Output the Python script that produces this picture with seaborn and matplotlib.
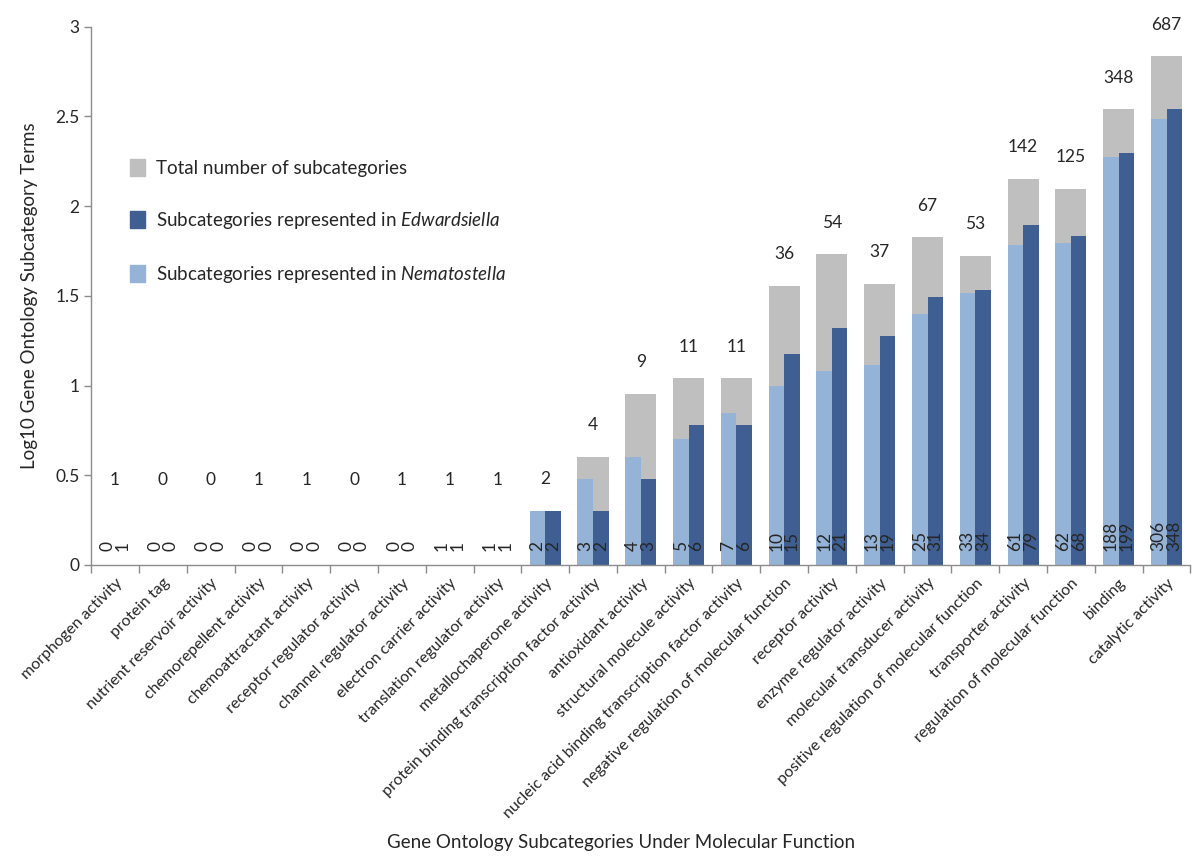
import numpy as np
import pandas as pd
import seaborn as sns
import matplotlib.pyplot as plt
from matplotlib.patches import Patch

categories = [
    "morphogen activity", "protein tag", "nutrient reservoir activity",
    "chemorepellent activity", "chemoattractant activity",
    "receptor regulator activity", "channel regulator activity",
    "electron carrier activity", "translation regulator activity",
    "metallochaperone activity", "protein binding transcription factor activity",
    "antioxidant activity", "structural molecule activity",
    "nucleic acid binding transcription factor activity",
    "negative regulation of molecular function", "receptor activity",
    "enzyme regulator activity", "molecular transducer activity",
    "positive regulation of molecular function", "transporter activity",
    "regulation of molecular function", "binding", "catalytic activity",
]

total_counts = [1, 0, 0, 1, 1, 0, 1, 1, 1, 2, 4, 9, 11, 11, 36, 54, 37, 67, 53, 142, 125, 348, 687]
nematostella_counts = [0, 0, 0, 0, 0, 0, 0, 1, 1, 2, 3, 4, 5, 7, 10, 12, 13, 25, 33, 61, 62, 188, 306]
edwardsiella_counts = [1, 0, 0, 0, 0, 0, 0, 1, 1, 2, 2, 3, 6, 6, 15, 21, 19, 31, 34, 79, 68, 199, 348]

sns.set_style("white")
plt.rcParams["font.family"] = ["Lato", "DejaVu Sans"]
plt.rcParams["mathtext.fontset"] = "custom"
plt.rcParams["mathtext.it"] = "Lato:italic"
plt.rcParams["mathtext.rm"] = "Lato"

n = len(categories)
# bars are log10 of the counts (a count of 0 or 1 gives no bar)
log_total = np.log10(np.maximum(total_counts, 1))
log_nem = np.log10(np.maximum(nematostella_counts, 1))
log_edw = np.log10(np.maximum(edwardsiella_counts, 1))

df_total = pd.DataFrame({"category": categories, "value": log_total})
df_species = pd.DataFrame({
    "category": categories * 2,
    "value": np.concatenate([log_nem, log_edw]),
    "species": ["Nematostella"] * n + ["Edwardsiella"] * n,
})

gray = "#bfbfbf"
light = "#95b3d7"
dark = "#3f5f92"

fig, ax = plt.subplots(figsize=(12, 8.65), dpi=100)
fig.subplots_adjust(left=0.076, right=0.992, bottom=0.347, top=0.969)

sns.barplot(data=df_total, x="category", y="value", order=categories,
            color=gray, width=0.65, saturation=1, errorbar=None,
            linewidth=0, ax=ax)
sns.barplot(data=df_species, x="category", y="value", hue="species",
            order=categories, hue_order=["Nematostella", "Edwardsiella"],
            palette=[light, dark], width=0.65, saturation=1, errorbar=None,
            linewidth=0, legend=False, ax=ax)

# value labels
for i in range(n):
    ax.text(i, max(log_total[i], 0.3) + 0.175, str(total_counts[i]),
            ha="center", va="center", fontsize=12.5)
    ax.text(i - 0.1625, 0.075, str(nematostella_counts[i]), rotation=90,
            ha="center", va="bottom", fontsize=12.5)
    ax.text(i + 0.1625, 0.075, str(edwardsiella_counts[i]), rotation=90,
            ha="center", va="bottom", fontsize=12.5)

ax.set_ylim(0, 3)
ax.set_xlim(-0.5, n - 0.5)
ax.set_yticks([0, 0.5, 1, 1.5, 2, 2.5, 3])
ax.set_yticklabels(["0", "0.5", "1", "1.5", "2", "2.5", "3"], fontsize=12.5)
ax.set_xticks(range(n))
ax.set_xticklabels(categories, rotation=45, ha="right",
                   rotation_mode="anchor", fontsize=11.5)
ax.set_xticks(np.arange(-0.5, n, 1), minor=True)
ax.tick_params(axis="x", which="major", length=0, pad=8)
ax.tick_params(axis="x", which="minor", length=6, width=1,
               color="#8c8c8c", direction="out", bottom=True)
ax.tick_params(axis="y", length=5, width=1, color="#8c8c8c",
               direction="out", left=True)

for side in ["top", "right"]:
    ax.spines[side].set_visible(False)
for side in ["left", "bottom"]:
    ax.spines[side].set_color("#8c8c8c")
    ax.spines[side].set_linewidth(1)

ax.set_xlabel("Gene Ontology Subcategories Under Molecular Function",
              fontsize=13.5)
ax.xaxis.set_label_coords(0.482, -0.5)
ax.set_ylabel("Log10 Gene Ontology Subcategory Terms", fontsize=13.5,
              labelpad=12)

handles = [
    Patch(color=gray, label="Total number of subcategories"),
    Patch(color=dark, label=r"Subcategories represented in $\it{Edwardsiella}$"),
    Patch(color=light, label=r"Subcategories represented in $\it{Nematostella}$"),
]
ax.legend(handles=handles, loc="upper left", bbox_to_anchor=(0.02, 0.785),
          frameon=False, fontsize=13.5, labelspacing=1.75,
          handlelength=0.8, handleheight=1.0, handletextpad=0.6)

plt.savefig("out.png", dpi=100)
